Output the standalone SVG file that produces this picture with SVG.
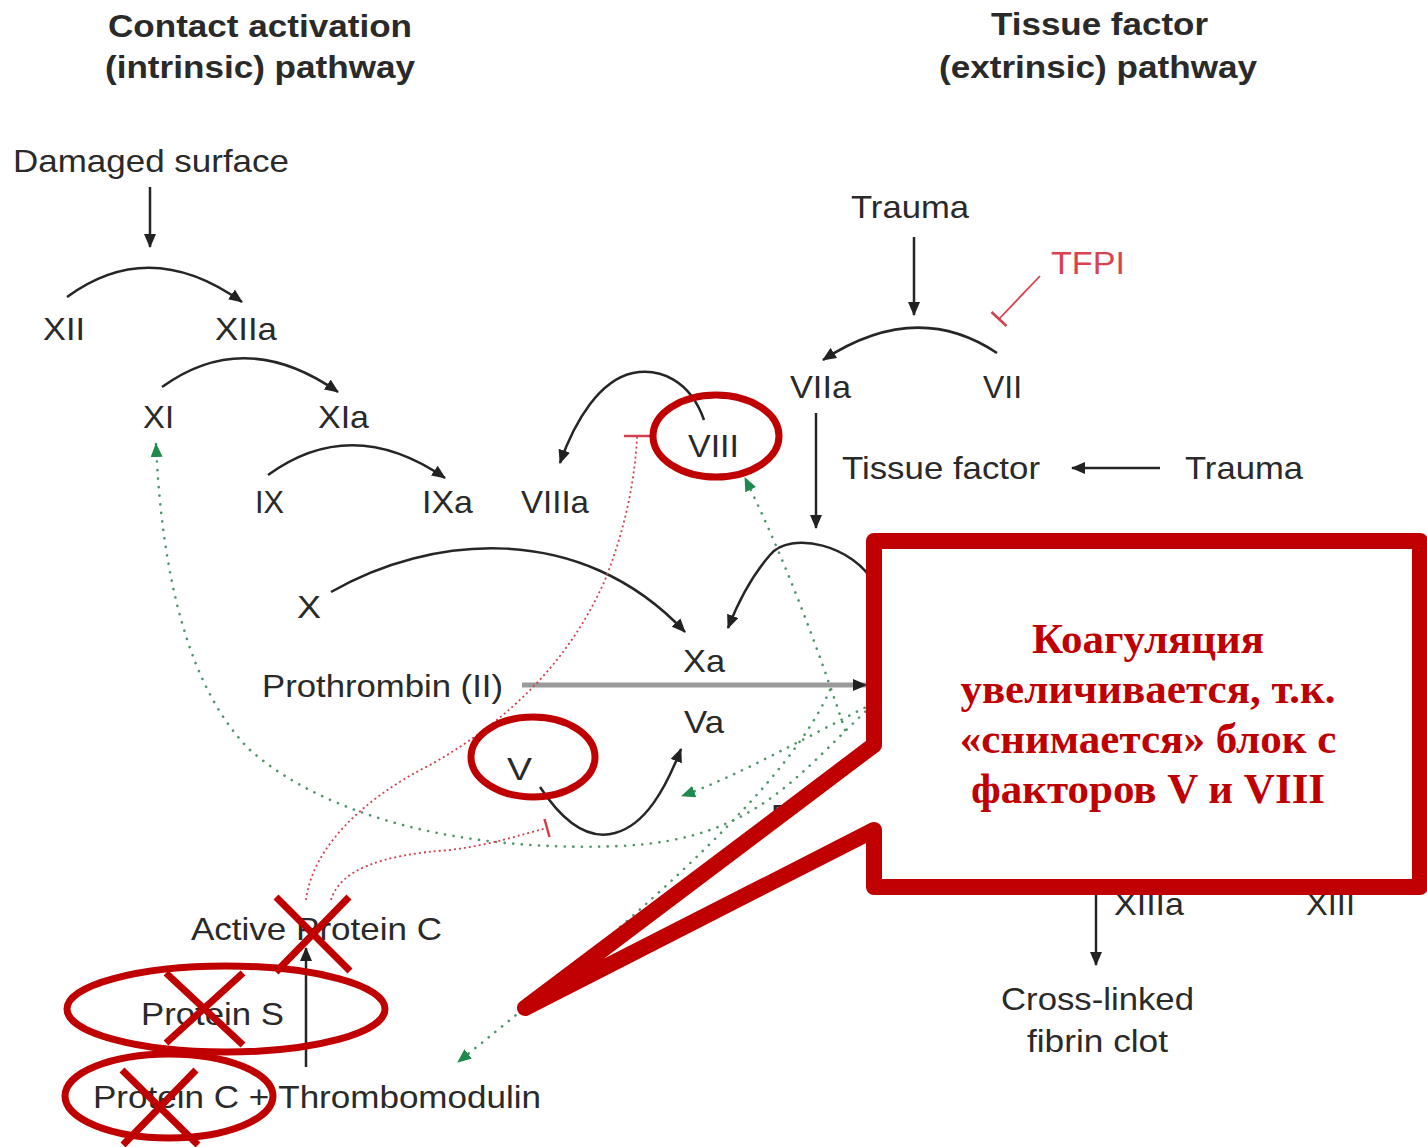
<svg xmlns="http://www.w3.org/2000/svg" width="1427" height="1147" viewBox="0 0 1427 1147">
<style>
text{font-family:"Liberation Sans",Arial,sans-serif;font-size:32px;fill:#2a2a2a}
.t{font-weight:bold}
.red{fill:#d9434e}
.ln{fill:none;stroke:#262626;stroke-width:2.5}
.gd{fill:none;stroke:#4f9668;stroke-width:2.6;stroke-dasharray:0.1 8.5;stroke-linecap:round}
.rd{fill:none;stroke:#d2404e;stroke-width:1.8;stroke-dasharray:2 3}
.bar{fill:none;stroke:#d2404e;stroke-width:2.5}
.mark{fill:none;stroke:#c00000;stroke-width:7}
.cap{font-family:"Liberation Serif","Times New Roman",serif;font-weight:bold;font-size:43px;fill:#c00000;text-anchor:middle}
</style>
<defs>
<marker id="ah" viewBox="0 0 14 12" refX="13" refY="6" markerWidth="14" markerHeight="12" markerUnits="userSpaceOnUse" orient="auto"><path d="M0,0 L14,6 L0,12 z" fill="#222"/></marker>
<marker id="gh" viewBox="0 0 14 12" refX="13" refY="6" markerWidth="14" markerHeight="12" markerUnits="userSpaceOnUse" orient="auto"><path d="M0,0 L14,6 L0,12 z" fill="#1f8a4c"/></marker>
</defs>
<rect width="1427" height="1147" fill="#fff"/>

<g id="titles">
<text class="t" x="108" y="37" textLength="304" lengthAdjust="spacingAndGlyphs">Contact activation</text>
<text class="t" x="105" y="78" textLength="310" lengthAdjust="spacingAndGlyphs">(intrinsic) pathway</text>
<text class="t" x="991" y="35" textLength="217" lengthAdjust="spacingAndGlyphs">Tissue factor</text>
<text class="t" x="939" y="78" textLength="318" lengthAdjust="spacingAndGlyphs">(extrinsic) pathway</text>
</g>

<g id="connectors">
<path class="ln" d="M150,187 L150,247" marker-end="url(#ah)"/>
<path class="ln" d="M67,297 Q150,236 242,302" marker-end="url(#ah)"/>
<path class="ln" d="M162,387 Q245,327 338,392" marker-end="url(#ah)"/>
<path class="ln" d="M268,475 Q352,414 445,478" marker-end="url(#ah)"/>
<path class="ln" d="M704,420 C690,380 660,368 633,373 C600,380 575,420 560,463" marker-end="url(#ah)"/>
<path class="ln" d="M914,237 L914,315" marker-end="url(#ah)"/>
<path class="ln" d="M997,353 Q916,299 823,360" marker-end="url(#ah)"/>
<path class="ln" d="M816,413 L816,528" marker-end="url(#ah)"/>
<path class="ln" d="M1160,468 L1072,468" stroke="#555" marker-end="url(#ah)"/>
<path class="ln" d="M331,592 C430,535 580,520 685,632" marker-end="url(#ah)"/>
<path class="ln" d="M875,585 C855,545 790,530 770,555 C750,578 737,605 728,628" marker-end="url(#ah)"/>
<path d="M522,685 L866,685" fill="none" stroke="#9a9a9a" stroke-width="5" marker-end="url(#ah)"/>
<path class="ln" d="M540,787 C565,825 590,840 615,833 C645,825 665,790 681,749" marker-end="url(#ah)"/>
<path class="ln" d="M306,1067 L306,948" marker-end="url(#ah)"/>
<path class="ln" d="M1096,895 L1096,965" marker-end="url(#ah)"/>
<path class="gd" d="M878,700 C800,770 760,840 620,846 C470,852 330,820 250,750 C190,690 162,580 156,444" marker-end="url(#gh)"/>
<path class="gd" d="M880,700 C810,735 740,775 682,796" marker-end="url(#gh)"/>
<path class="gd" d="M845,730 C815,640 785,560 745,478" marker-end="url(#gh)"/>
<path class="gd" d="M830,690 C790,780 660,900 458,1062" marker-end="url(#gh)"/>
<path class="rd" d="M306,900 C312,850 360,800 430,765 C510,720 570,660 605,580 C625,530 635,480 637,437"/>
<path class="bar" d="M624,436 L650,436"/>
<path class="rd" d="M331,900 C340,870 380,855 450,850 C490,845 520,835 547,828"/>
<path class="bar" d="M544.5,819 L549.5,837"/>
<path d="M1040,276 L999,319" fill="none" stroke="#d9434e" stroke-width="1.8"/>
<path class="bar" d="M991.5,312 L1006.5,326"/>
</g>

<g id="n-damaged"><text x="13" y="172" textLength="276" lengthAdjust="spacingAndGlyphs">Damaged surface</text></g>
<g id="n-xii"><text x="43" y="340" textLength="42" lengthAdjust="spacingAndGlyphs">XII</text></g>
<g id="n-xiia"><text x="215" y="340" textLength="62" lengthAdjust="spacingAndGlyphs">XIIa</text></g>
<g id="n-xi"><text x="143" y="428" textLength="31" lengthAdjust="spacingAndGlyphs">XI</text></g>
<g id="n-xia"><text x="318" y="428" textLength="51" lengthAdjust="spacingAndGlyphs">XIa</text></g>
<g id="n-ix"><text x="255" y="513" textLength="29" lengthAdjust="spacingAndGlyphs">IX</text></g>
<g id="n-ixa"><text x="422" y="513" textLength="51" lengthAdjust="spacingAndGlyphs">IXa</text></g>
<g id="n-viiia"><text x="521" y="513" textLength="68" lengthAdjust="spacingAndGlyphs">VIIIa</text></g>
<g id="n-viii"><text x="688" y="457" textLength="51" lengthAdjust="spacingAndGlyphs">VIII</text></g>
<g id="n-trauma1"><text x="851" y="218" textLength="118" lengthAdjust="spacingAndGlyphs">Trauma</text></g>
<g id="n-tfpi"><text class="red" x="1051" y="274" textLength="74" lengthAdjust="spacingAndGlyphs">TFPI</text></g>
<g id="n-viia"><text x="790" y="398" textLength="61" lengthAdjust="spacingAndGlyphs">VIIa</text></g>
<g id="n-vii"><text x="983" y="398" textLength="39" lengthAdjust="spacingAndGlyphs">VII</text></g>
<g id="n-tf"><text x="842" y="479" textLength="198" lengthAdjust="spacingAndGlyphs">Tissue factor</text></g>
<g id="n-trauma2"><text x="1185" y="479" textLength="118" lengthAdjust="spacingAndGlyphs">Trauma</text></g>
<g id="n-x"><text x="297" y="618" textLength="24" lengthAdjust="spacingAndGlyphs">X</text></g>
<g id="n-xa"><text x="683" y="672" textLength="42" lengthAdjust="spacingAndGlyphs">Xa</text></g>
<g id="n-prothrombin"><text x="262" y="697" textLength="241" lengthAdjust="spacingAndGlyphs">Prothrombin (II)</text></g>
<g id="n-va"><text x="684" y="733" textLength="40" lengthAdjust="spacingAndGlyphs">Va</text></g>
<g id="n-v"><text x="507" y="780" textLength="25" lengthAdjust="spacingAndGlyphs">V</text></g>
<g id="n-f"><text x="771" y="827">F</text></g>
<g id="n-xiiia"><text x="1114" y="915" textLength="70" lengthAdjust="spacingAndGlyphs">XIIIa</text></g>
<g id="n-xiii"><text x="1306" y="915" textLength="49" lengthAdjust="spacingAndGlyphs">XIII</text></g>
<g id="n-clot"><text x="1001" y="1010" textLength="193" lengthAdjust="spacingAndGlyphs">Cross-linked</text><text x="1027" y="1052" textLength="141" lengthAdjust="spacingAndGlyphs">fibrin clot</text></g>
<g id="n-apc"><text x="191" y="940" textLength="251" lengthAdjust="spacingAndGlyphs">Active Protein C</text></g>
<g id="n-ps"><text x="141" y="1025" textLength="143" lengthAdjust="spacingAndGlyphs">Protein S</text></g>
<g id="n-pc"><text x="93" y="1108" textLength="448" lengthAdjust="spacingAndGlyphs">Protein C + Thrombomodulin</text></g>

<g id="callout">
<path d="M874,541 L1420,541 L1420,887 L874,887 L874,830 L525,1008 L874,745 Z" fill="#fff" stroke="#c00000" stroke-width="16" stroke-linejoin="round"/>
<text class="cap" x="1148" y="653">Коагуляция</text>
<text class="cap" x="1148" y="703">увеличивается, т.к.</text>
<text class="cap" x="1148" y="753">«снимается» блок с</text>
<text class="cap" x="1148" y="803">факторов V и VIII</text>
</g>

<g id="annotations">
<ellipse class="mark" cx="716" cy="436" rx="63" ry="41"/>
<ellipse class="mark" cx="533" cy="757" rx="62" ry="40"/>
<ellipse class="mark" cx="226" cy="1009" rx="159" ry="43"/>
<ellipse class="mark" cx="169" cy="1096" rx="104" ry="42"/>
<path class="mark" d="M276,897 L350,971 M349,897 L276,972"/>
<path class="mark" d="M166,973 L243,1045 M243,973 L166,1043"/>
<path class="mark" d="M122,1070 L198,1145 M196,1070 L123,1145"/>
</g>
</svg>
